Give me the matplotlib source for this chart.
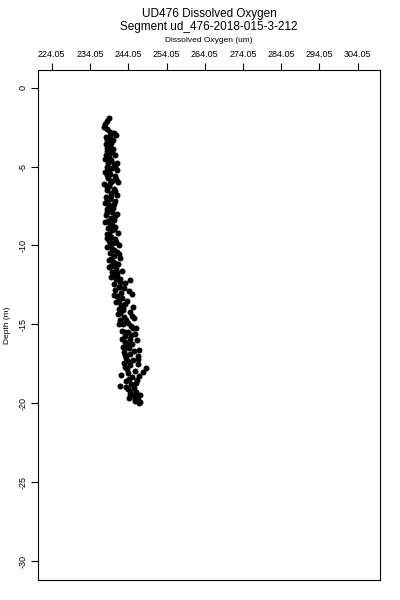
import matplotlib
matplotlib.use('Agg')
import matplotlib.pyplot as plt

# depth (m) and dissolved oxygen (um)
depth = [-1.95, -2.1, -2.3, -2.5, -2.6, -2.8, -2.9, -3.0, -3.1, -3.2, -3.35, -3.5, -3.6, -3.75, -3.9, -4.0,
         -4.1, -4.25, -4.4, -4.5, -4.6, -4.75, -4.85, -5.0,
         -5.1, -5.2, -5.35, -5.5, -5.6, -5.75, -5.9, -6.0, -6.1, -6.25, -6.4, -6.5, -6.65, -6.8, -6.9, -7.05,
         -7.2, -7.3, -7.45, -7.6, -7.7, -7.85, -8.0, -8.1, -8.25, -8.4, -8.5, -8.65, -8.8, -8.9, -9.05, -9.2,
         -9.3, -9.45, -9.6, -9.7,
         -9.85, -10.0, -10.1, -10.25, -10.4, -10.5, -10.65, -10.8, -10.9, -11.05, -11.2, -11.3, -11.45, -11.6, -11.7,
         -11.85, -12.0, -12.1, -12.2, -12.3, -12.45, -12.6, -12.7, -12.85, -13.0, -13.1, -13.2, -13.35, -13.5,
         -13.6, -13.75, -13.9, -14.0,
         -14.1, -14.2, -14.35, -14.5, -14.6, -14.75, -14.9, -15.0, -15.1, -15.25, -15.4, -15.5, -15.6, -15.75,
         -15.9, -16.0,
         -16.1, -16.25, -16.4, -16.5, -16.6, -16.75, -16.9, -17.0, -17.1, -17.2, -17.3, -17.45, -17.6, -17.75,
         -17.85, -18.0,
         -18.1, -18.2, -18.35, -18.5, -18.6, -18.75, -18.9, -19.0, -19.1, -19.25, -19.4, -19.5, -19.6, -19.7,
         -19.8, -19.9, -20.0]
oxygen = [238.9, 238.4, 238.0, 237.8, 238.6, 239.4, 240.3, 240.8, 238.2, 239.0, 238.4, 239.6, 238.1, 239.2, 240.1, 238.5,
          239.7, 240.6, 238.9, 237.9, 239.5, 241.0, 240.2, 238.6,
          239.8, 241.2, 238.0, 239.3, 240.5, 238.7, 239.9, 241.3, 237.8, 239.1, 240.2, 238.4, 239.6, 241.0, 238.1, 239.4,
          240.6, 237.9, 239.0, 240.1, 238.6, 239.8, 241.2, 238.3, 239.5, 240.4, 238.0, 239.2, 240.7, 238.8, 239.9, 241.3,
          238.4, 239.6, 240.5, 238.9,
          240.0, 241.6, 238.6, 239.8, 241.0, 239.2, 240.4, 242.0, 238.9, 240.1, 241.4, 239.5, 240.8, 242.4, 239.9,
          241.1, 239.6, 240.9, 244.6, 241.8, 240.2, 241.5, 243.0, 240.7, 242.2, 244.9, 241.0, 242.5, 243.8,
          240.9, 242.1, 245.2, 241.6,
          242.8, 244.4, 241.3, 243.0, 245.6, 242.0, 243.9, 241.7, 244.8, 246.2, 242.5, 244.0, 245.7, 243.1,
          244.6, 246.4,
          243.3, 245.1, 242.6, 244.2, 246.8, 243.0, 244.5, 246.5, 243.5, 246.7, 244.0, 242.9, 244.4, 248.6,
          243.6, 247.8,
          244.1, 242.2, 245.0, 246.3, 243.4, 244.8, 242.0, 245.5, 243.9, 246.0, 244.6, 245.3, 246.4, 245.8,
          246.6, 247.0, 246.9]

# second pass of readings that fill the dense core of the profile
depth2 = [-3.05, -3.3, -3.55, -3.8, -4.05, -4.3, -4.55, -4.8, -5.05, -5.3, -5.55, -5.8, -6.05, -6.3, -6.55,
          -6.85, -7.1, -7.35, -7.65, -7.9, -8.15, -8.45, -8.7, -8.95, -9.25, -9.5, -9.75, -10.05, -10.3, -10.55,
          -10.85, -11.1, -11.35, -11.65, -11.9, -12.15, -12.4, -12.65, -12.9, -13.15, -13.45, -13.7, -13.95,
          -14.25, -14.45, -14.7, -14.95, -15.2, -15.45, -15.7, -15.95, -16.2, -16.45, -16.7, -16.95, -17.25,
          -17.5, -17.7, -17.95, -18.25, -18.45, -18.7, -18.95, -19.2, -19.45, -19.65, -19.85]
oxygen2 = [239.3, 240.0, 238.9, 238.6, 239.5, 238.2, 239.1, 238.7, 240.6, 239.0, 238.5, 240.8, 239.4, 238.6, 240.7,
           239.5, 238.5, 240.3, 239.2, 238.4, 240.5, 238.7, 239.8, 240.2, 239.0, 238.6, 240.9, 239.3, 240.4, 241.5,
           239.6, 240.7, 239.1, 241.0, 240.4, 241.9, 243.1, 242.0, 244.3, 240.3, 241.7, 243.3, 242.7,
           241.9, 245.0, 243.4, 242.6, 245.3, 243.3, 244.7, 242.4, 244.6, 243.7, 245.6, 243.1, 245.4,
           246.6, 243.2, 245.8, 246.9, 244.2, 246.2, 243.4, 244.5, 247.1, 244.3, 245.9]

xticks = [224.05, 234.05, 244.05, 254.05, 264.05, 274.05, 284.05, 294.05, 304.05]
yticks = [0, -5, -10, -15, -20, -25, -30]

plt.rcParams['font.family'] = ['Liberation Sans', 'DejaVu Sans']

fig = plt.figure(figsize=(4, 6), dpi=100)
ax = fig.add_axes([0.096, 0.033, 0.854, 0.850])

ax.plot(oxygen, depth, 'o', color='black', markersize=4.3, markeredgewidth=0)
ax.plot(oxygen2, depth2, 'o', color='black', markersize=4.3, markeredgewidth=0)

ax.set_xlim(220.55, 309.87)
ax.set_ylim(-31.2, 1.1)
ax.set_xticks(xticks)
ax.set_xticklabels(['%.2f' % t for t in xticks])
ax.set_yticks(yticks)
ax.set_yticklabels([str(t) for t in yticks], rotation=90, va='center')
ax.xaxis.tick_top()
ax.xaxis.set_label_position('top')
ax.tick_params(axis='both', direction='out', length=5, width=0.8, labelsize=6.5, pad=3)
ax.set_xlabel('Dissolved Oxygen (um)', fontsize=6, labelpad=6)
ax.set_ylabel('Depth (m)', fontsize=6, labelpad=5)
for s in ax.spines.values():
    s.set_linewidth(0.8)

fig.text(0.5225, 0.977, 'UD476 Dissolved Oxygen', ha='center', va='center', fontsize=8.5)
fig.text(0.5225, 0.955, 'Segment ud_476-2018-015-3-212', ha='center', va='center', fontsize=8.5)

fig.savefig('out.png', dpi=100)
